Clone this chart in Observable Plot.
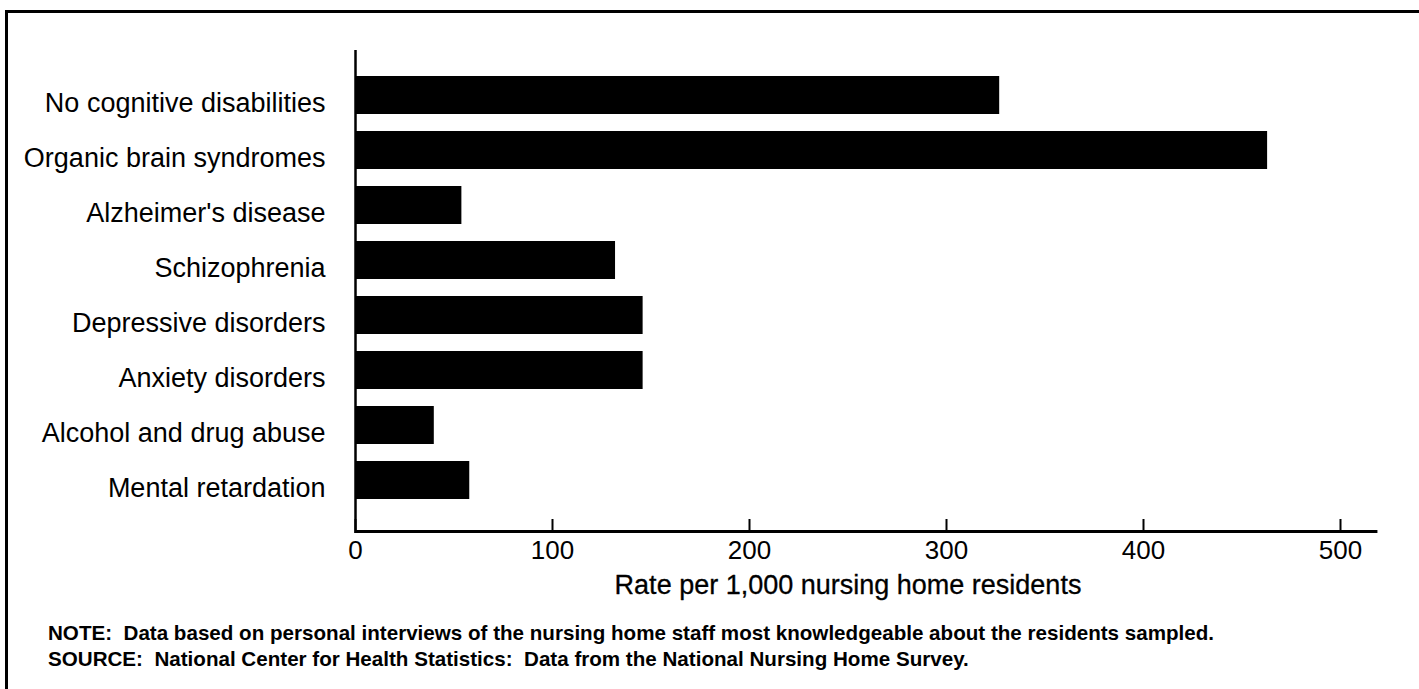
<!DOCTYPE html>
<html>
<head>
<meta charset="utf-8">
<script src="https://cdn.jsdelivr.net/npm/d3@7"></script>
<script src="https://cdn.jsdelivr.net/npm/@observablehq/plot@0.6"></script>
<style>
  html, body { margin: 0; padding: 0; background: #fff; }
  #wrap { position: relative; width: 1419px; height: 689px; overflow: hidden; background: #fff;
          font-family: "Liberation Sans", Arial, Helvetica, sans-serif; color: #000; }
  #chart { position: absolute; left: 0; top: 0; }
  #box { position: absolute; left: 5px; top: 10px; width: 1500px; height: 800px; z-index: 2;
         border-left: 3px solid #000; border-top: 3px solid #000; pointer-events: none; }
  .note { position: absolute; left: 48px; font-size: 20.6px; font-weight: bold; line-height: 26px; white-space: nowrap; }
</style>
</head>
<body>
<div id="wrap">
  <div id="chart"></div>
  <div id="box"></div>
  <div class="note" id="note1" style="top:620px"></div>
  <div class="note" id="note2" style="top:646px"></div>
</div>
<script>
const categories = [
  "No cognitive disabilities",
  "Organic brain syndromes",
  "Alzheimer's disease",
  "Schizophrenia",
  "Depressive disorders",
  "Anxiety disorders",
  "Alcohol and drug abuse",
  "Mental retardation"
];
const values = [327, 463, 54, 132, 146, 146, 40, 58];
const xTicks = [0, 100, 200, 300, 400, 500];
const xAxisEnd = 519;
const xTitle = "Rate per 1,000 nursing home residents";
const noteText = "NOTE:\u00a0 Data based on personal interviews of the nursing home staff most knowledgeable about the residents sampled.";
const sourceText = "SOURCE:\u00a0 National Center for Health Statistics:\u00a0 Data from the National Nursing Home Survey.";

const data = categories.map((c, i) => ({category: c, value: values[i]}));

const W = 1419, H = 612, mTop = 50, mBottom = 79;
const frameH = H - mTop - mBottom;

const chart = Plot.plot({
  width: W,
  height: H,
  marginTop: mTop,
  marginBottom: mBottom,
  marginLeft: 355,
  marginRight: 79,
  style: {fontFamily: '"Liberation Sans", Arial, Helvetica, sans-serif', color: "#000", background: "transparent"},
  x: {domain: [0, 500]},
  y: {domain: categories, paddingInner: 0.308, paddingOuter: 0.544, align: 0.433},
  marks: [
    Plot.barX(data, {x: "value", y: "category", fill: "#000"}),
    Plot.ruleX([0], {stroke: "#000", strokeWidth: 2.5}),
    Plot.rect([xAxisEnd], {x1: 0, x2: d => d, fill: "#000", insetTop: frameH - 3}),
    Plot.ruleX(xTicks, {x: d => d, stroke: "#000", strokeWidth: 2, insetTop: frameH - 14}),
    Plot.axisX({ticks: xTicks, tickSize: 0, tickPadding: 7, fontSize: 26, label: null, fill: "#000", stroke: "#000", strokeWidth: 0.3}),
    Plot.axisY({tickSize: 0, tickPadding: 30, fontSize: 27, dy: 8, label: null, fill: "#000", stroke: "#000", strokeWidth: 0.3}),
    Plot.text([xTitle], {text: d => d, frameAnchor: "bottom", dy: 60, fontSize: 27, fill: "#000", stroke: "#000", strokeWidth: 0.3})
  ]
});
document.getElementById("chart").appendChild(chart);
document.getElementById("note1").textContent = noteText;
document.getElementById("note2").textContent = sourceText;
</script>
</body>
</html>
